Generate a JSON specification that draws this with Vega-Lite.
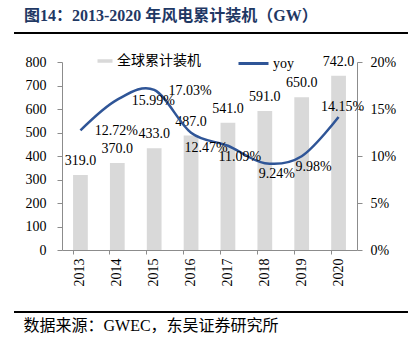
{
  "$schema": "https://vega.github.io/schema/vega-lite/v6.json",
  "width": 295,
  "height": 188,
  "autosize": {"type": "none"},
  "padding": {"left": 62, "top": 62, "right": 62, "bottom": 95},
  "background": "white",
  "config": {
    "view": {"stroke": null},
    "font": "Liberation Serif, Noto Sans CJK SC",
    "text": {"font": "Liberation Serif, Noto Sans CJK SC", "fontSize": 14, "color": "#000000"},
    "axis": {
      "grid": false,
      "domainColor": "#8c8c8c",
      "tickColor": "#8c8c8c",
      "labelFont": "Liberation Serif, Noto Sans CJK SC",
      "labelFontSize": 14,
      "labelColor": "#000000",
      "tickSize": 5
    },
    "legend": {
      "labelFont": "Liberation Serif, Noto Sans CJK SC",
      "labelFontSize": 14,
      "labelColor": "#000000"
    }
  },
  "title": {
    "text": "图14：2013-2020 年风电累计装机（GW）",
    "anchor": "start",
    "frame": "group",
    "dx": -38,
    "offset": 8,
    "font": "Liberation Serif, Noto Sans CJK SC",
    "fontSize": 16,
    "fontWeight": "bold",
    "color": "#1f3864"
  },
  "data": {
    "values": [
      {"year": "2013", "cap": 319.0, "yoy": 0.1272},
      {"year": "2014", "cap": 370.0, "yoy": 0.1599},
      {"year": "2015", "cap": 433.0, "yoy": 0.1703},
      {"year": "2016", "cap": 487.0, "yoy": 0.1247},
      {"year": "2017", "cap": 541.0, "yoy": 0.1109},
      {"year": "2018", "cap": 591.0, "yoy": 0.0924},
      {"year": "2019", "cap": 650.0, "yoy": 0.0998},
      {"year": "2020", "cap": 742.0, "yoy": 0.1415}
    ]
  },
  "layer": [
    {
      "layer": [
        {
          "encoding": {
            "x": {
              "field": "year",
              "type": "ordinal",
              "scale": {"paddingInner": 0.6, "paddingOuter": 0.3},
              "axis": {
                "labelAngle": -90,
                "labelAlign": "right",
                "labelBaseline": "middle",
                "tickSize": 4,
                "labelPadding": 4,
                "bandPosition": 0,
                "title": "数据来源：GWEC，东吴证券研究所",
                "titleFont": "Liberation Serif, Noto Sans CJK SC",
                "titleFontSize": 16,
                "titleFontWeight": "normal",
                "titleColor": "#000000",
                "titleAlign": "left",
                "titleAnchor": "start",
                "titleBaseline": "middle",
                "titleX": -39,
                "titleY": 75
              }
            },
            "y": {
              "field": "cap",
              "type": "quantitative",
              "scale": {"domain": [0, 800], "nice": false},
              "axis": {
                "title": null,
                "values": [0, 100, 200, 300, 400, 500, 600, 700, 800],
                "labelPadding": 11,
                "orient": "left"
              }
            }
          },
          "layer": [
            {
              "mark": {"type": "bar"},
              "encoding": {
                "fill": {
                  "datum": "全球累计装机",
                  "type": "nominal",
                  "scale": {"range": ["#d9d9d9"]},
                  "legend": {
                    "orient": "none",
                    "legendX": 36,
                    "legendY": -8,
                    "title": null,
                    "symbolType": "M-1.5,-0.35H1.5V0.35H-1.5Z",
                    "symbolSize": 100,
                    "symbolStrokeWidth": 0,
                    "labelOffset": 5
                  }
                }
              }
            },
            {
              "mark": {"type": "text", "baseline": "alphabetic", "align": "center", "dy": -10},
              "encoding": {
                "text": {"field": "cap", "type": "quantitative", "format": ".1f"}
              }
            }
          ]
        },
        {
          "encoding": {
            "x": {"field": "year", "type": "ordinal"},
            "y": {
              "field": "yoy",
              "type": "quantitative",
              "scale": {"domain": [0, 0.2], "nice": false},
              "axis": {
                "title": null,
                "orient": "right",
                "format": ".0%",
                "values": [0, 0.05, 0.1, 0.15, 0.2],
                "labelPadding": 8
              }
            }
          },
          "layer": [
            {
              "mark": {"type": "line", "interpolate": "cardinal", "strokeWidth": 2.5},
              "encoding": {
                "stroke": {
                  "datum": "yoy",
                  "type": "nominal",
                  "scale": {"range": ["#2f5597"]},
                  "legend": {
                    "orient": "none",
                    "legendX": 175,
                    "legendY": -15,
                    "title": null,
                    "symbolType": "stroke",
                    "symbolSize": 900,
                    "symbolStrokeWidth": 3,
                    "labelOffset": 3
                  }
                }
              }
            },
            {
              "transform": [{"filter": "datum.year <= '2015'"}],
              "mark": {"type": "text", "baseline": "middle", "align": "center", "dx": 36, "dy": 1},
              "encoding": {"text": {"field": "yoy", "type": "quantitative", "format": ".2%"}}
            },
            {
              "transform": [{"filter": "datum.year == '2016'"}],
              "mark": {"type": "text", "baseline": "middle", "align": "center", "dx": 15, "dy": 15},
              "encoding": {"text": {"field": "yoy", "type": "quantitative", "format": ".2%"}}
            },
            {
              "transform": [{"filter": "datum.year >= '2017' && datum.year <= '2019'"}],
              "mark": {"type": "text", "baseline": "middle", "align": "center", "dx": 12, "dy": 11},
              "encoding": {"text": {"field": "yoy", "type": "quantitative", "format": ".2%"}}
            },
            {
              "transform": [{"filter": "datum.year == '2020'"}],
              "mark": {"type": "text", "baseline": "middle", "align": "center", "dx": 4, "dy": -10},
              "encoding": {"text": {"field": "yoy", "type": "quantitative", "format": ".2%"}}
            }
          ]
        }
      ],
      "resolve": {"scale": {"y": "independent"}}
    },
    {
      "data": {"values": [{}]},
      "layer": [
        {
          "mark": {"type": "rule", "color": "#000000", "strokeWidth": 2},
          "encoding": {
            "x": {"datum": 0, "type": "quantitative", "scale": {"domain": [0.1218, 0.8706], "nice": false, "zero": false}, "axis": null},
            "x2": {"datum": 1},
            "y": {"datum": 923, "type": "quantitative", "scale": {"domain": [0, 800], "nice": false}, "axis": null}
          }
        },
        {
          "mark": {"type": "rule", "color": "#000000", "strokeWidth": 2},
          "encoding": {
            "x": {"datum": 0, "type": "quantitative", "scale": {"domain": [0.1218, 0.8706], "nice": false, "zero": false}, "axis": null},
            "x2": {"datum": 1},
            "y": {"datum": -264, "type": "quantitative", "scale": {"domain": [0, 800], "nice": false}, "axis": null}
          }
        }
      ]
    }
  ],
  "resolve": {"scale": {"x": "independent", "y": "independent"}}
}
